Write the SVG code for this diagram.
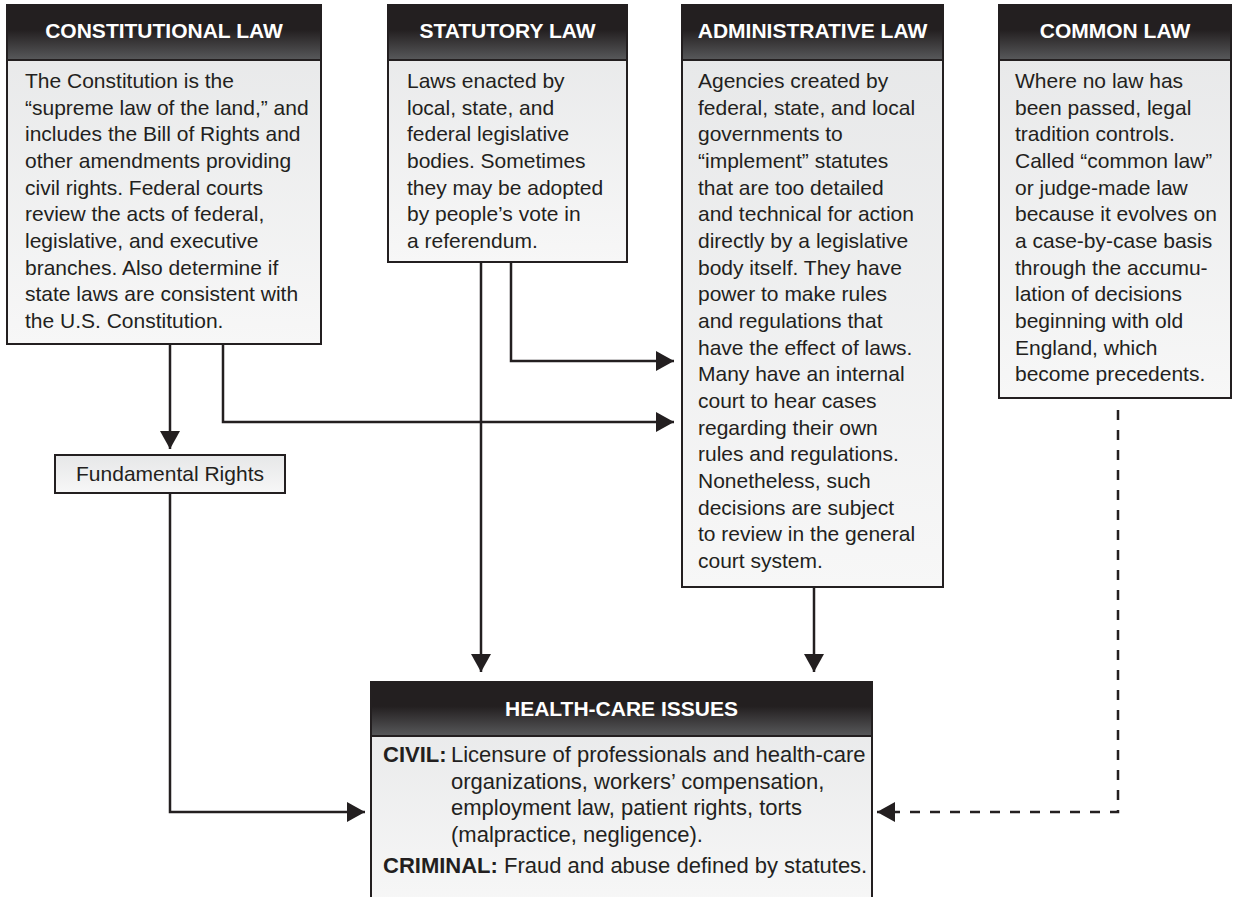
<svg xmlns="http://www.w3.org/2000/svg" width="1233" height="897" viewBox="0 0 1233 897">
  <defs>
    <linearGradient id="hdrGrad" x1="0" y1="0" x2="0" y2="1">
      <stop offset="0" stop-color="#231f20"/>
      <stop offset="0.45" stop-color="#231f20"/>
      <stop offset="1" stop-color="#58595b"/>
    </linearGradient>
    <linearGradient id="bodyGrad" x1="0" y1="0" x2="0" y2="1">
      <stop offset="0" stop-color="#e6e7e8"/>
      <stop offset="1" stop-color="#f7f7f7"/>
    </linearGradient>
    <marker id="arrow" viewBox="0 0 18 20" refX="18" refY="10" markerWidth="18" markerHeight="20" markerUnits="userSpaceOnUse" orient="auto">
      <path d="M0,0 L18,10 L0,20 Z" fill="#231f20"/>
    </marker>
    <style>
      .body { fill: url(#bodyGrad); stroke: #231f20; stroke-width: 2; }
      .hdr { fill: url(#hdrGrad); stroke: #231f20; stroke-width: 2; }
      .hdr-text { font-family: "Liberation Sans", Arial, sans-serif; font-weight: bold; font-size: 21px; fill: #ffffff; text-anchor: middle; }
      .txt { font-family: "Liberation Sans", Arial, sans-serif; font-size: 21px; fill: #231f20; }
      .txt-lg { font-family: "Liberation Sans", Arial, sans-serif; font-size: 22px; fill: #231f20; }
      .b { font-weight: bold; }
      .conn { fill: none; stroke: #231f20; stroke-width: 2.5; marker-end: url(#arrow); }
      .dashed { stroke-dasharray: 10 10; }
    </style>
  </defs>

  <rect width="1233" height="897" fill="#ffffff"/>

  <!-- connectors -->
  <g id="connectors">
    <path class="conn" d="M170,344 V449"/>
    <path class="conn" d="M223,344 V422 H674"/>
    <path class="conn" d="M481,262 V672"/>
    <path class="conn" d="M511,262 V361 H674"/>
    <path class="conn" d="M814,587 V672"/>
    <path class="conn" d="M170,493 V812 H365"/>
    <path class="conn dashed" d="M1118,410 V812 H877"/>
  </g>

  <!-- Constitutional law -->
  <g id="constitutional-law">
    <rect class="body" x="7" y="5" width="314" height="339"/>
    <rect class="hdr" x="7" y="5" width="314" height="55"/>
    <text class="hdr-text" x="164" y="38">CONSTITUTIONAL LAW</text>
    <text class="txt">
      <tspan x="25" y="88">The Constitution is the</tspan>
      <tspan x="25" y="114.7">“supreme law of the land,” and</tspan>
      <tspan x="25" y="141.3">includes the Bill of Rights and</tspan>
      <tspan x="25" y="168">other amendments providing</tspan>
      <tspan x="25" y="194.7">civil rights. Federal courts</tspan>
      <tspan x="25" y="221.3">review the acts of federal,</tspan>
      <tspan x="25" y="248">legislative, and executive</tspan>
      <tspan x="25" y="274.7">branches. Also determine if</tspan>
      <tspan x="25" y="301.3">state laws are consistent with</tspan>
      <tspan x="25" y="328">the U.S. Constitution.</tspan>
    </text>
  </g>

  <!-- Statutory law -->
  <g id="statutory-law">
    <rect class="body" x="388" y="5" width="239" height="257"/>
    <rect class="hdr" x="388" y="5" width="239" height="55"/>
    <text class="hdr-text" x="507.5" y="38">STATUTORY LAW</text>
    <text class="txt">
      <tspan x="407" y="88">Laws enacted by</tspan>
      <tspan x="407" y="114.7">local, state, and</tspan>
      <tspan x="407" y="141.3">federal legislative</tspan>
      <tspan x="407" y="168">bodies. Sometimes</tspan>
      <tspan x="407" y="194.7">they may be adopted</tspan>
      <tspan x="407" y="221.3">by people’s vote in</tspan>
      <tspan x="407" y="248">a referendum.</tspan>
    </text>
  </g>

  <!-- Administrative law -->
  <g id="administrative-law">
    <rect class="body" x="682" y="5" width="261" height="582"/>
    <rect class="hdr" x="682" y="5" width="261" height="55"/>
    <text class="hdr-text" x="812.5" y="38">ADMINISTRATIVE LAW</text>
    <text class="txt">
      <tspan x="698" y="88">Agencies created by</tspan>
      <tspan x="698" y="114.7">federal, state, and local</tspan>
      <tspan x="698" y="141.3">governments to</tspan>
      <tspan x="698" y="168">“implement” statutes</tspan>
      <tspan x="698" y="194.7">that are too detailed</tspan>
      <tspan x="698" y="221.3">and technical for action</tspan>
      <tspan x="698" y="248">directly by a legislative</tspan>
      <tspan x="698" y="274.7">body itself. They have</tspan>
      <tspan x="698" y="301.3">power to make rules</tspan>
      <tspan x="698" y="328">and regulations that</tspan>
      <tspan x="698" y="354.7">have the effect of laws.</tspan>
      <tspan x="698" y="381.3">Many have an internal</tspan>
      <tspan x="698" y="408">court to hear cases</tspan>
      <tspan x="698" y="434.7">regarding their own</tspan>
      <tspan x="698" y="461.3">rules and regulations.</tspan>
      <tspan x="698" y="488">Nonetheless, such</tspan>
      <tspan x="698" y="514.7">decisions are subject</tspan>
      <tspan x="698" y="541.3">to review in the general</tspan>
      <tspan x="698" y="568">court system.</tspan>
    </text>
  </g>

  <!-- Common law -->
  <g id="common-law">
    <rect class="body" x="999" y="5" width="232" height="393"/>
    <rect class="hdr" x="999" y="5" width="232" height="55"/>
    <text class="hdr-text" x="1115" y="38">COMMON LAW</text>
    <text class="txt">
      <tspan x="1015" y="88">Where no law has</tspan>
      <tspan x="1015" y="114.7">been passed, legal</tspan>
      <tspan x="1015" y="141.3">tradition controls.</tspan>
      <tspan x="1015" y="168">Called “common law”</tspan>
      <tspan x="1015" y="194.7">or judge-made law</tspan>
      <tspan x="1015" y="221.3">because it evolves on</tspan>
      <tspan x="1015" y="248">a case-by-case basis</tspan>
      <tspan x="1015" y="274.7">through the accumu-</tspan>
      <tspan x="1015" y="301.3">lation of decisions</tspan>
      <tspan x="1015" y="328">beginning with old</tspan>
      <tspan x="1015" y="354.7">England, which</tspan>
      <tspan x="1015" y="381.3">become precedents.</tspan>
    </text>
  </g>

  <!-- Fundamental rights -->
  <g id="fundamental-rights">
    <rect class="body" x="55" y="455" width="230" height="38"/>
    <text class="txt" x="170" y="481" text-anchor="middle">Fundamental Rights</text>
  </g>

  <!-- Health-care issues -->
  <g id="health-care-issues">
    <rect class="body" x="371" y="682" width="501" height="225"/>
    <rect class="hdr" x="371" y="682" width="501" height="54"/>
    <text class="hdr-text" x="621.5" y="716">HEALTH-CARE ISSUES</text>
    <text class="txt-lg">
      <tspan x="383" y="762" class="b">CIVIL:</tspan>
      <tspan x="451" y="762">Licensure of professionals and health-care</tspan>
      <tspan x="451" y="788.7">organizations, workers’ compensation,</tspan>
      <tspan x="451" y="815.3">employment law, patient rights, torts</tspan>
      <tspan x="451" y="842">(malpractice, negligence).</tspan>
    </text>
    <text class="txt-lg" x="383" y="873"><tspan class="b">CRIMINAL:</tspan> Fraud and abuse defined by statutes.</text>
  </g>
</svg>
